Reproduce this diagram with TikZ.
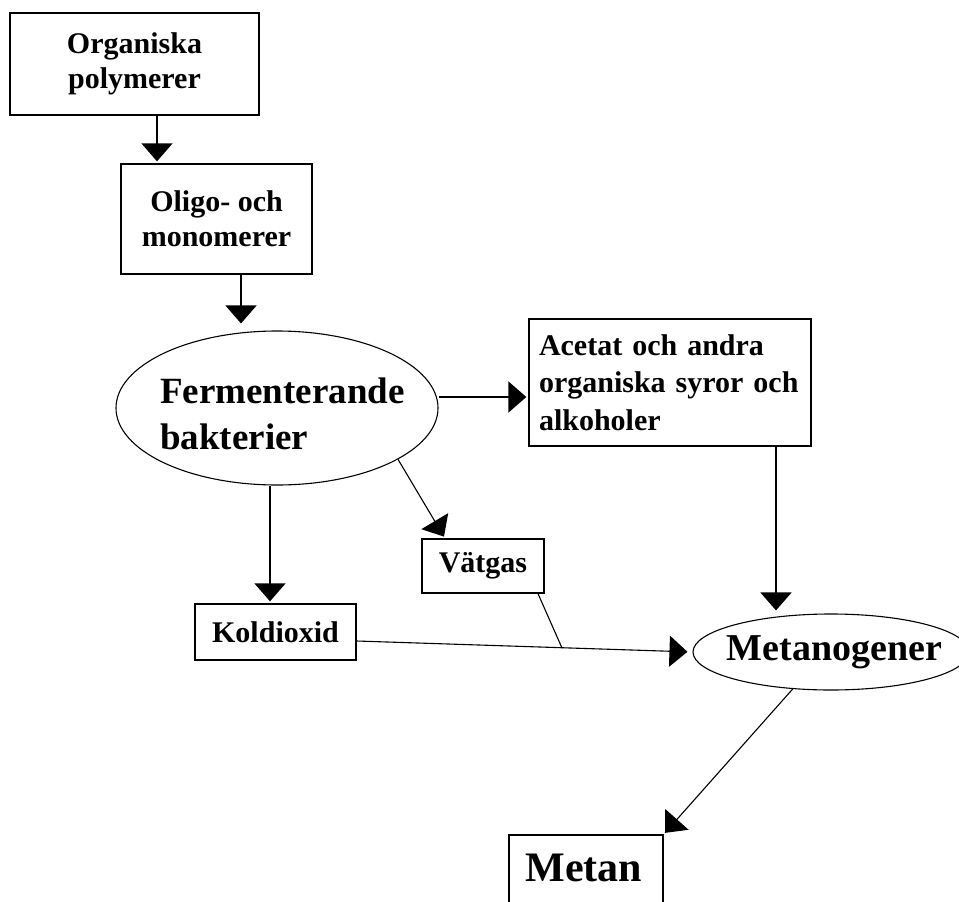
\documentclass[tikz,border=0pt]{standalone}
\usepackage{fontspec}
\setmainfont{Liberation Serif}
\usetikzlibrary{arrows.meta,shapes.geometric,calc}
\begin{document}
\begin{tikzpicture}[x=1pt,y=-1pt,
  box/.style={draw, line width=1.3pt, rectangle, inner sep=0pt, align=center, font=\fontsize{30}{35}\selectfont\bfseries},
  oval/.style={draw, line width=1.1pt, ellipse, inner sep=0pt},
  arr/.style={-{Triangle[width=31pt,length=18pt]}, line width=1.4pt},
  thinl/.style={line width=1.1pt},
  bigtxt/.style={inner sep=0pt, font=\fontsize{37}{46}\selectfont\bfseries}]
\clip (0,0) rectangle (959,902);
\fill[white] (0,0) rectangle (959,902);
% nodes
\node[box, minimum width=249pt, minimum height=102pt] (op) at (134.5,64) {Organiska\\polymerer};
\node[box, minimum width=191pt, minimum height=110pt] (om) at (216.5,219) {Oligo- och\\monomerer};
\node[oval, minimum width=322pt, minimum height=154pt] (fe) at (277,408) {};
\node[bigtxt, align=left, anchor=west] (fet) at ([xshift=-117pt,yshift=-6pt]fe.center) {Fermenterande\\bakterier};
\node[box, minimum height=127pt, text width=262pt, inner xsep=10pt, align=left, font=\fontsize{30}{37.5}\selectfont\bfseries] (ac) at (670,382.5) {Acetat och andra\\organiska syror och\\alkoholer};
\node[box, minimum width=161pt, minimum height=56pt] (ko) at (275.5,632) {Koldioxid};
\node[box, minimum width=122pt, minimum height=54pt] (va) at (483,566) {Vätgas};
\node[oval, minimum width=276pt, minimum height=76pt] (me) at (831,652) {};
\node[bigtxt, font=\fontsize{38}{46}\selectfont\bfseries] (met) at ([xshift=3.5pt]me.center) {Metanogener};
\node[box, minimum width=154pt, minimum height=110pt] (mt) at (586,890) {};
\node[bigtxt, font=\fontsize{42}{50}\selectfont\bfseries, anchor=base] (mtt) at ([xshift=-2pt,yshift=-47pt]mt.north) {Metan};
% connectors
\draw[arr, shorten >=2pt] ([xshift=22.5pt]op.south) -- ([xshift=22.5pt]op.south |- om.north);
\draw[arr, shorten >=7pt] ([xshift=24.5pt]om.south) -- ([xshift=24.5pt]om.south |- fe.north);
\draw[arr, shorten >=2pt] ([yshift=11pt]fe.east) -- ([yshift=-14.5pt]ac.west);
\draw[arr, shorten >=3pt] ([xshift=106pt]ac.south) -- ([xshift=106pt]ac.south |- me.north);
\draw[arr, shorten >=2pt] ([xshift=-7pt]fe.south) -- ([xshift=-5.5pt]ko.north);
\draw[arr, thinl, shorten >=2pt] (fe.-23) -- ([xshift=-38pt]va.north);
\coordinate (j) at (562,648);
\draw[arr, thinl, shorten >=5pt] ([yshift=-9pt]ko.east) -- (me.west);
\draw[thinl] ([xshift=55pt]va.south) -- (j);
\draw[arr, thinl, shorten >=2pt] (me.224) -- (mt.north east);
\end{tikzpicture}
\end{document}
